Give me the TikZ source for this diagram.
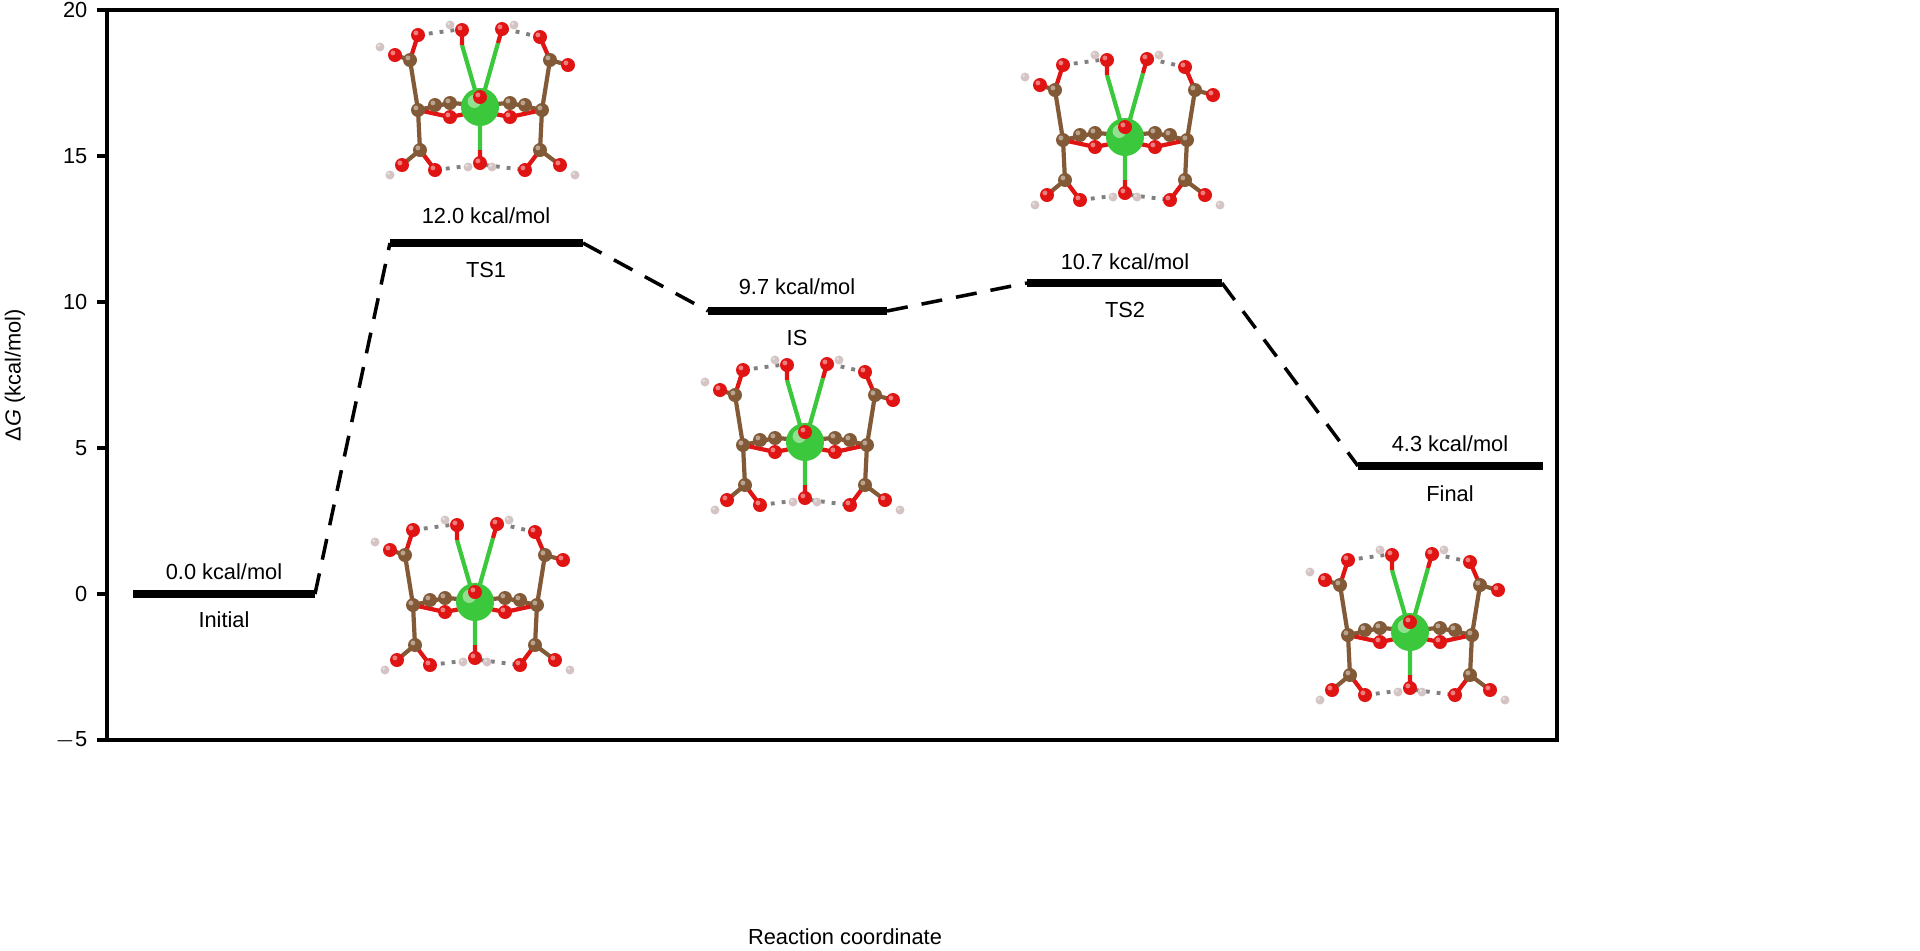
\documentclass[tikz,border=0pt]{standalone}
\usepackage{fontspec}
\setmainfont{Liberation Sans}
\usetikzlibrary{positioning}
\definecolor{cbrown}{RGB}{130,90,55}
\definecolor{cred}{RGB}{225,20,20}
\definecolor{cgreen}{RGB}{60,200,60}
\newcommand{\atom}[3]{\fill[#1] #2 circle (#3); \fill[white, opacity=.45] #2 ++(-#3*0.3,-#3*0.3) circle (#3*0.35);}
\tikzset{
  level/.style={line width=2.4pt},
  link/.style={dashed, line width=1pt, dash pattern=on 6pt off 4pt},
  lbl/.style={font=\fontsize{6.2}{7.5}\selectfont, inner sep=0pt},
  bond/.style={line width=1.2pt, cbrown},
  obond/.style={line width=1.2pt, cred},
  gbond/.style={line width=1.2pt, cgreen},
  hb/.style={gray, dotted, line width=1.1pt},
  pics/molec/.style={code={
    % frame
    \draw[bond] (-70,-45) -- (-62,5) -- (-60,45) (70,-45) -- (62,5) -- (60,45);
    \draw[bond] (-62,5) -- (-30,-2) -- (0,0) -- (30,-2) -- (62,5);
    \draw[obond] (-62,5) -- (-30,12) -- (0,6) -- (30,12) -- (62,5);
    \draw[bond] (-70,-45) -- (-85,-50) (70,-45) -- (88,-40) (-60,45) -- (-78,60) (60,45) -- (80,60);
    \draw[obond] (-70,-45) -- (-62,-70) (70,-45) -- (60,-68) (-60,45) -- (-45,65) (60,45) -- (45,65);
    \draw[gbond] (0,2) -- (-18,-60) (0,2) -- (18,-62) (0,2) -- (0,45);
    \draw[obond] (-18,-60) -- (-18,-75) (18,-62) -- (22,-76) (0,45) -- (0,60);
    \draw[hb] (-62,-70) -- (-25,-75) (25,-76) -- (60,-68) (-45,65) -- (-5,60) (5,60) -- (45,65);
    \atom{cgreen}{(0,2)}{19}
    \foreach \p in {(-62,5),(-30,-2),(30,-2),(62,5),(-70,-45),(70,-45),(-60,45),(60,45),(-45,0),(45,0)}
      {\atom{cbrown}{\p}{7}}
    \foreach \p in {(-85,-50),(88,-40),(-78,60),(80,60),(-62,-70),(60,-68),(-45,65),(45,65),(-18,-75),(22,-76),(0,58),(0,-8),(-30,12),(30,12)}
      {\atom{cred}{\p}{7}}
    \foreach \p in {(-100,-58),(-30,-80),(34,-80),(95,70),(-90,70),(12,62),(-12,62)}
      {\atom{red!15!gray!40}{\p}{4.5}}
  }}
}
\begin{document}
\begin{tikzpicture}[x=0.01cm, y=-0.01cm]
\useasboundingbox (0,0) rectangle (1920,950);
% axes
\draw[line width=1pt] (107,10) rectangle (1557,740);
\foreach \v/\yy in {20/10,15/156,10/302,5/448,0/594,-5/740}{
  \draw[line width=1pt] (97,\yy) -- (107,\yy);
  \node[lbl, anchor=east] at (88,\yy) {\ifnum\v<0 $-$5\else\v\fi};
}
\node[lbl, rotate=90] (ylab) at (15,375) {Δ\textit{G} (kcal/mol)};
\node[lbl] (xlab) at (845,937) {Reaction coordinate};

% levels
\coordinate (ini-l) at (133,594); \coordinate (ini-r) at (315,594);
\coordinate (ts1-l) at (390,243); \coordinate (ts1-r) at (583,243);
\coordinate (is-l) at (708,311);  \coordinate (is-r) at (887,311);
\coordinate (ts2-l) at (1027,283); \coordinate (ts2-r) at (1222,283);
\coordinate (fin-l) at (1358,466); \coordinate (fin-r) at (1543,466);
\draw[level] (ini-l) -- (ini-r);
\draw[level] (ts1-l) -- (ts1-r);
\draw[level] (is-l) -- (is-r);
\draw[level] (ts2-l) -- (ts2-r);
\draw[level] (fin-l) -- (fin-r);
\draw[link] (ini-r) -- (ts1-l);
\draw[link] (ts1-r) -- (is-l);
\draw[link] (is-r) -- (ts2-l);
\draw[link] (ts2-r) -- (fin-l);

% labels
\node[lbl] (e-ini) at (224,572) {0.0 kcal/mol};
\node[lbl] (n-ini) at (224,620) {Initial};
\node[lbl] (e-ts1) at (486,216) {12.0 kcal/mol};
\node[lbl] (n-ts1) at (486,270) {TS1};
\node[lbl] (e-is) at (797,287) {9.7 kcal/mol};
\node[lbl] (n-is) at (797,338) {IS};
\node[lbl] (e-ts2) at (1125,262) {10.7 kcal/mol};
\node[lbl] (n-ts2) at (1125,310) {TS2};
\node[lbl] (e-fin) at (1450,444) {4.3 kcal/mol};
\node[lbl] (n-fin) at (1450,494) {Final};

% structures
\pic at (480,105) {molec};
\pic at (1125,135) {molec};
\pic at (805,440) {molec};
\pic at (475,600) {molec};
\pic at (1410,630) {molec};
\end{tikzpicture}
\end{document}
